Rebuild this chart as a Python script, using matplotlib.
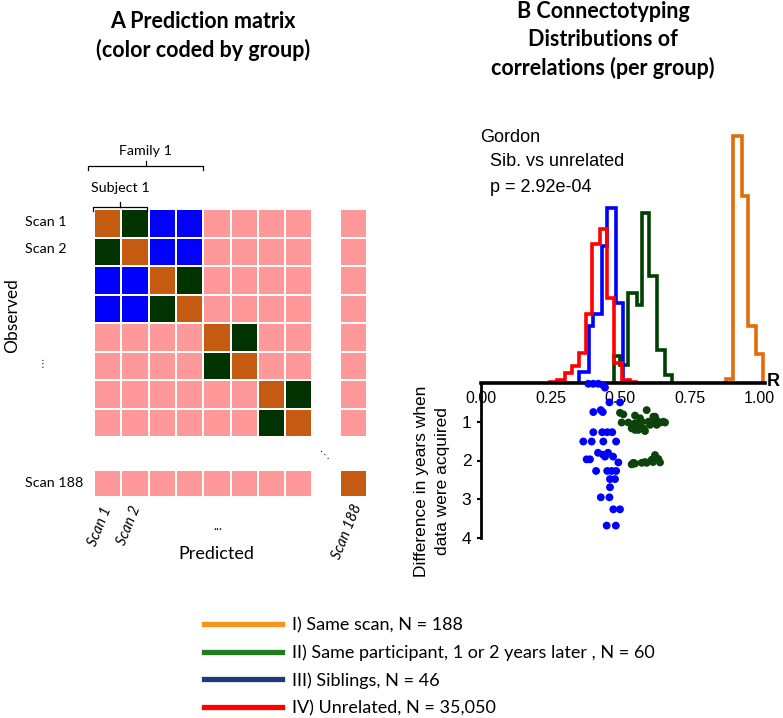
import numpy as np
import matplotlib
matplotlib.use("Agg")
from matplotlib import pyplot as plt
from matplotlib.colors import ListedColormap, BoundaryNorm
from matplotlib.lines import Line2D

# ---- data ----
# panel A: which subject each scan belongs to, which family each subject belongs to
scan_subject = [0, 0, 1, 1, 2, 2, 3, 3]
subject_family = [0, 0, 1, 2]
group_colors = ["#C55A11", "#003300", "#0000FF", "#FF9999"]  # same scan, same subj, sibling, unrelated

# panel B: histogram outlines (bin edges in R, heights in arbitrary units)
orange_edges = [0.881, 0.908, 0.938, 0.962, 0.989, 1.013]
orange_heights = [4, 247, 187, 57, 29]
green_edges = [0.478, 0.500, 0.530, 0.560, 0.578, 0.606, 0.634, 0.662, 0.686]
green_heights = [27, 18, 90, 78, 170, 107, 33, 8]
blue_edges = [0.354, 0.390, 0.404, 0.434, 0.452, 0.486, 0.512]
blue_heights = [11, 57, 69, 137, 175, 80]
red_edges = [0.248, 0.272, 0.302, 0.326, 0.354, 0.376, 0.398, 0.428, 0.452, 0.478, 0.506, 0.536, 0.558]
red_heights = [1, 3, 10, 17, 30, 69, 139, 154, 85, 20, 3, 1]

# siblings: correlation vs difference in years
blue_r = [0.386, 0.404, 0.422, 0.440, 0.446,
          0.462, 0.500,
          0.404, 0.431, 0.438,
          0.404, 0.436, 0.454, 0.472,
          0.368, 0.398, 0.440, 0.486,
          0.421, 0.439, 0.457, 0.446, 0.475,
          0.380, 0.392,
          0.494,
          0.414, 0.454, 0.470, 0.486,
          0.464, 0.482,
          0.464,
          0.431, 0.462,
          0.476, 0.500,
          0.452, 0.485]
blue_yr = [0.02, 0.02, 0.02, 0.06, 0.12,
           0.50, 0.50,
           0.75, 0.70, 0.75,
           1.27, 1.27, 1.27, 1.27,
           1.51, 1.51, 1.51, 1.51,
           1.80, 1.85, 1.80, 1.90, 1.90,
           1.97, 1.97,
           2.05,
           2.27, 2.27, 2.27, 2.27,
           2.48, 2.48,
           2.69,
           2.95, 2.95,
           3.26, 3.26,
           3.68, 3.68]

# same participant: correlation vs difference in years
green_r = [0.512, 0.554, 0.596, 0.572, 0.620, 0.506, 0.530, 0.554, 0.578, 0.602,
           0.626, 0.644, 0.662, 0.560, 0.584, 0.542, 0.608, 0.632, 0.566, 0.590,
           0.632, 0.656, 0.500, 0.554, 0.572, 0.608, 0.626,
           0.542, 0.548, 0.578, 0.590, 0.614, 0.626, 0.629, 0.644, 0.619, 0.554,
           0.596, 0.638]
green_yr = [0.81, 0.84, 0.70, 0.91, 0.87, 1.02, 1.02, 1.04, 1.00, 1.00,
            1.00, 1.02, 1.02, 1.13, 1.17, 1.17, 1.08, 1.08, 1.21, 1.24,
            0.97, 1.00, 0.77, 1.21, 1.17, 1.04, 0.87,
            2.10, 2.06, 2.06, 2.04, 1.98, 1.86, 1.94, 2.05, 2.04, 2.08,
            2.06, 1.96]

legend_labels = ["I) Same scan, N = 188",
                 "II) Same participant, 1 or 2 years later , N = 60",
                 "III) Siblings, N = 46",
                 "IV) Unrelated, N = 35,050"]
legend_colors = ["#F7941D", "#1E7B1E", "#1F3A7A", "#FF0000"]
hist_colors = ["#E36C0A", "#004000", "#0000FF", "#FF0000"]

W, H = 783, 718


def fx(x):
    return x / W


def fy(y):
    return 1 - y / H


fig = plt.figure(figsize=(W / 100, H / 100), dpi=100)
calibri = "Lato"
arial = "Liberation Sans"

# ---- panel A: prediction matrix ----
n = len(scan_subject)
mat = np.full((10, 10), np.nan)
for i in range(n):
    for j in range(n):
        if i == j:
            mat[i, j] = 0
        elif scan_subject[i] == scan_subject[j]:
            mat[i, j] = 1
        elif subject_family[scan_subject[i]] == subject_family[scan_subject[j]]:
            mat[i, j] = 2
        else:
            mat[i, j] = 3
mat[:n, 9] = 3
mat[9, :n] = 3
mat[9, 9] = 0

x_edges = np.arange(11)
y_edges = np.r_[np.arange(9), 9.16, 10.1]
top_px, row_h = 209, 28.5
axA = fig.add_axes([fx(94), fy(top_px + 10.1 * row_h), fx(273), (10.1 * row_h) / H])
cmap = ListedColormap(group_colors)
norm = BoundaryNorm([-0.5, 0.5, 1.5, 2.5, 3.5], cmap.N)
axA.pcolormesh(x_edges, y_edges, np.ma.masked_invalid(mat), cmap=cmap, norm=norm,
               edgecolors="white", linewidth=1.2)
axA.set_xlim(0, 10)
axA.set_ylim(10.1, 0)
axA.axis("off")

fig.text(fx(203), fy(22), "A Prediction matrix", ha="center", va="center",
         fontsize=15.5, fontweight="bold", family=calibri)
fig.text(fx(203), fy(50), "(color coded by group)", ha="center", va="center",
         fontsize=15.5, fontweight="bold", family=calibri)

for label, y in [("Scan 1", 222), ("Scan 2", 249), ("Scan 188", 483)]:
    fig.text(fx(25), fy(y), label, ha="left", va="center", fontsize=10.3, family=calibri)
fig.text(fx(12), fy(316), "Observed", rotation=90, ha="center", va="center",
         fontsize=12.5, family=calibri)
fig.text(fx(43), fy(364), "\u22ee", ha="center", va="center", fontsize=7, family="DejaVu Sans")
fig.text(fx(325), fy(455), "\u22f1", ha="center", va="center", fontsize=7, family="DejaVu Sans")

for label, x, y in [("Scan 1", 100, 526), ("Scan 2", 129, 525), ("Scan 188", 347, 532)]:
    fig.text(fx(x), fy(y), label, rotation=68, ha="center", va="center",
             fontsize=10.5, style="italic", family=calibri)
fig.text(fx(218), fy(526), "...", ha="center", va="center", fontsize=9, family=calibri)
fig.text(fx(216), fy(554), "Predicted", ha="center", va="center", fontsize=13, family=calibri)

# brackets
def bracket(x0, x1, y, label, ly):
    xm = (x0 + x1) / 2
    fig.add_artist(Line2D([fx(x0), fx(x0), fx(x1), fx(x1)], [fy(y + 4), fy(y), fy(y), fy(y + 4)],
                          transform=fig.transFigure, color="black", lw=0.9))
    fig.add_artist(Line2D([fx(xm), fx(xm)], [fy(y), fy(y - 5)],
                          transform=fig.transFigure, color="black", lw=0.9))
    fig.text(fx(xm), fy(ly), label, ha="center", va="center", fontsize=10.3, family=calibri)


bracket(88, 203, 166, "Family 1", 151)
bracket(93, 147, 207, "Subject 1", 188)

# ---- panel B: distributions ----
x0_px, x_span = 481, 278
xmax = 1.02
axU = fig.add_axes([fx(x0_px), fy(383), fx(x_span * xmax), 255 / H])
for edges, heights, c in [(orange_edges, orange_heights, hist_colors[0]),
                          (green_edges, green_heights, hist_colors[1]),
                          (blue_edges, blue_heights, hist_colors[2]),
                          (red_edges, red_heights, hist_colors[3])]:
    axU.stairs(heights, edges, color=c, lw=2.6, baseline=0)
axU.set_xlim(0, xmax)
axU.set_ylim(0, 255)
axU.set_facecolor("none")
for s in ["top", "right", "left"]:
    axU.spines[s].set_visible(False)
axU.spines["bottom"].set_linewidth(2.6)
axU.set_yticks([])
axU.set_xticks([0, 0.25, 0.5, 0.75, 1.0])
axU.set_xticklabels(["0.00", "0.25", "0.50", "0.75", "1.00"], fontsize=11.5, family=arial)
axU.tick_params(axis="x", length=0, pad=6)

axL = fig.add_axes([fx(x0_px), fy(538), fx(x_span * xmax), 155 / H])
axL.set_facecolor("none")
axL.scatter(blue_r, blue_yr, s=32, color="#0000FF", edgecolors="none", zorder=3, clip_on=False)
axL.scatter(green_r, green_yr, s=32, color="#0B430B", edgecolors="none", zorder=3, clip_on=False)
axL.set_xlim(0, xmax)
axL.set_ylim(4, 0)
for s in ["top", "right", "bottom"]:
    axL.spines[s].set_visible(False)
axL.spines["left"].set_linewidth(2)
axL.set_xticks([])
axL.set_yticks([1, 2, 3, 4])
axL.set_yticklabels(["1", "2", "3", "4"], fontsize=12.5, family=arial)
axL.tick_params(axis="y", length=3, width=1.5, pad=4)

fig.text(fx(432), fy(481), "Difference in years when\ndata were acquired", rotation=90,
         ha="center", va="center", fontsize=12.5, family=arial, linespacing=1.45)
fig.text(fx(773), fy(381), "R", ha="center", va="center", fontsize=13, fontweight="bold", family=arial)

fig.text(fx(480), fy(137), "Gordon", ha="left", va="center", fontsize=13, family=arial)
fig.text(fx(490), fy(162), "Sib. vs unrelated", ha="left", va="center", fontsize=13, family=arial)
fig.text(fx(490), fy(187), "p = 2.92e-04", ha="left", va="center", fontsize=13, family=arial)

for t, y in [("B Connectotyping", 12), ("Distributions of", 40), ("correlations (per group)", 68)]:
    fig.text(fx(603), fy(y), t, ha="center", va="center", fontsize=15.5, fontweight="bold", family=calibri)

# ---- legend ----
handles = [Line2D([], [], color=c, lw=3.8) for c in legend_colors]
fig.legend(handles, legend_labels, loc="upper left", bbox_to_anchor=(fx(204), fy(617)),
           frameon=False, prop={"family": calibri, "size": 13},
           handlelength=4.3, handletextpad=0.6, labelspacing=0.62, borderpad=0, borderaxespad=0)

fig.savefig("out.png", dpi=100)
